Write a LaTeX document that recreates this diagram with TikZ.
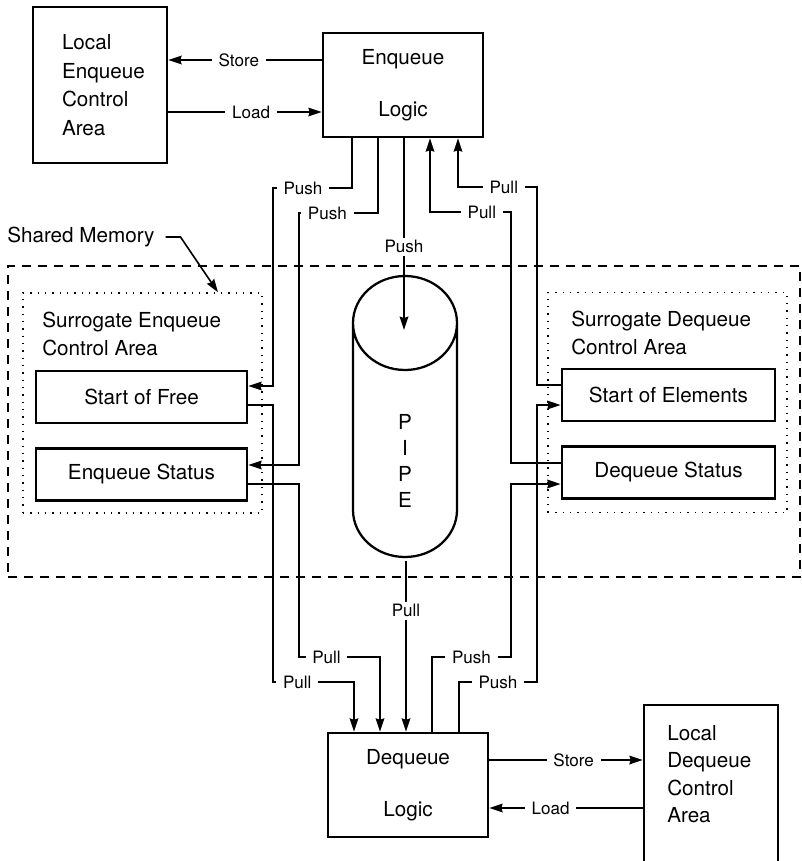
\documentclass[tikz,border=0pt]{standalone}
\usepackage{fontspec}
\setmainfont{TeX Gyre Heros}
\usetikzlibrary{arrows.meta,positioning}
\tikzset{%
  block/.style={draw, line width=1.9pt, inner sep=0pt, align=center,
    font=\fontsize{15.5}{20}\selectfont},% solid boxes
  logic/.style={block, minimum width=120pt, minimum height=78pt,
    font=\fontsize{15.5}{39}\selectfont},% enqueue / dequeue logic
  area/.style={block, align=left, minimum height=117pt,
    font=\fontsize{15.5}{21.5}\selectfont},% local control areas
  entry/.style={block, minimum height=39pt},% entries of a surrogate area
  region/.style={draw, line width=1pt, dash pattern=on 7pt off 5pt},% shared memory
  surrogate/.style={draw, line width=1pt, dash pattern=on 1pt off 4.5pt},% surrogate areas
  title/.style={align=left, anchor=west, inner sep=0pt,
    font=\fontsize{15.5}{21}\selectfont},
  flow/.style={line width=1.2pt, -{Stealth[length=10pt,width=6.5pt,inset=1pt]}},% data flow
  tag/.style={fill=white, inner xsep=5pt, inner ysep=2pt,
    font=\fontsize{12.8}{14}\selectfont}% Push / Pull / Load / Store
}

\begin{document}
\begin{tikzpicture}[x=0.75pt, y=0.75pt]
\useasboundingbox (0,0) rectangle (801,-861);

% shared memory with the two surrogate areas
\node[region, minimum width=594pt, minimum height=233.25pt] (shmem) at (404,-421.5) {};
\node[surrogate, minimum width=179.25pt, minimum height=165pt] (surenq) at (142.5,-403) {};
\node[surrogate, minimum width=179.25pt, minimum height=165pt] (surdeq) at (667.5,-402.5) {};
\node[title] (surenqtitle) at (42,-334) {Surrogate Enqueue\\Control Area};
\node[title] (surdeqtitle) at (571,-332.5) {Surrogate Dequeue\\Control Area};
\node[title] (shmemtitle) at (7,-237) {Shared Memory};

\node[entry, minimum width=158.25pt] (startfree) at (141.5,-397) {Start of Free};
\node[entry, minimum width=158.25pt] (enqstatus) at (141.5,-474.5) {Enqueue Status};
\node[entry, minimum width=160pt] (startelem) at (668.5,-395) {Start of Elements};
\node[entry, minimum width=160pt] (deqstatus) at (668.5,-472.5) {Dequeue Status};

% the pipe
\draw[line width=1.7pt] (353,-323) -- (353,-510)
  arc[start angle=180, end angle=360, x radius=39pt, y radius=35.25pt] -- (457,-323)
  arc[start angle=0, end angle=360, x radius=39pt, y radius=35.25pt];
\node[align=center, font=\fontsize{15.5}{19.3}\selectfont] (pipe) at (405,-461) {P\\I\\P\\E};
\coordinate (pipetop) at (404,-330);
\coordinate (pipebot) at (406,-561);

% logic and local control areas
\node[logic] (enqlogic) at (403,-85) {Enqueue\\Logic};
\node[logic] (deqlogic) at (408,-785) {Dequeue\\Logic};
\node[area, minimum width=100.5pt, text width=57pt, inner xsep=21.75pt] (locenq) at (100,-85)
  {Local\\Enqueue\\Control\\Area};
\node[block, minimum width=100.5pt, minimum height=120pt] (locdeq) at (711,-785) {};
\node[title, font=\fontsize{15.5}{20.5}\selectfont] (locdeqtext) at (667,-774)
  {Local\\Dequeue\\Control\\Area};

\draw[flow] ([xshift=8pt]shmemtitle.east) -- ++(15,0) -- (surenq.north -| 218,0);

\draw[flow] (enqlogic.west |- 0,-60) -- node[tag, pos=.54] {Store} (locenq.east |- 0,-60);
\draw[flow] (locenq.east |- 0,-112) -- node[tag, pos=.54] {Load} (enqlogic.west |- 0,-112);

\draw[flow] (enqlogic.south -| 352,0) |- node[tag, pos=.81] {Push} (273,-188)
  |- (startfree.east |- 0,-386);
\draw[flow] (enqlogic.south -| 378,0) |- node[tag, pos=.82] {Push} (299,-213)
  |- (enqstatus.east |- 0,-465);
\draw[flow] (enqlogic.south -| pipetop) -- node[tag, pos=.565] {Push} (pipetop);

\draw[flow] (deqstatus.west |- 0,-463) -| (511,-212)
  -| node[tag, pos=.18] {Pull} (enqlogic.south -| 430,0);
\draw[flow] (startelem.west |- 0,-385) -| (537,-187)
  -| node[tag, pos=.21] {Pull} (enqlogic.south -| 458,0);

\draw[flow] (startfree.east |- 0,-405) -| (273,-682)
  -| node[tag, pos=.15] {Pull} (deqlogic.north -| 354,0);
\draw[flow] (enqstatus.east |- 0,-484) -| (299,-657)
  -| node[tag, pos=.17] {Pull} (deqlogic.north -| 380,0);
\draw[flow] (pipebot) -- node[tag, pos=.29] {Pull} (deqlogic.north -| pipebot);

\draw[flow] (deqlogic.north -| 432,0) |- node[tag, pos=.75] {Push} (511,-657)
  |- (deqstatus.west |- 0,-484);
\draw[flow] (deqlogic.north -| 459,0) |- node[tag, pos=.75] {Push} (537,-682)
  |- (startelem.west |- 0,-405);

\draw[flow] (deqlogic.east |- 0,-760) -- node[tag, pos=.55] {Store} (locdeq.west |- 0,-760);
\draw[flow] (locdeq.west |- 0,-808) -- node[tag, pos=.6] {Load} (deqlogic.east |- 0,-808);
\end{tikzpicture}
\end{document}
